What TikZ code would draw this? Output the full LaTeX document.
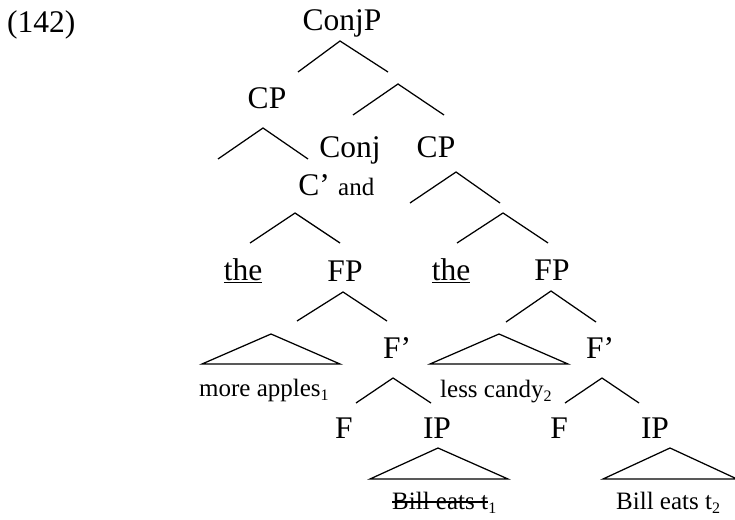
\documentclass[tikz,border=0pt]{standalone}
\usepackage{fontspec}
\setmainfont{Liberation Serif}
\newcommand{\sbs}[1]{\raisebox{-0.35ex}{\fontsize{16}{16}\selectfont #1}}
\begin{document}
\begin{tikzpicture}[x=1pt,y=-1pt,
  lab/.style={font=\fontsize{31.5}{34}\selectfont, inner sep=0pt, anchor=base},
  sm/.style={font=\fontsize{25}{28}\selectfont, inner sep=0pt, anchor=base west},
  br/.style={line width=1.25pt, line join=miter}]
\useasboundingbox (0,0) rectangle (735,519);
% labels
\node[lab, anchor=base west] (num) at (7,33) {(142)};
\node[lab] (conjp) at (342,31) {ConjP};
\node[lab] (cp1) at (267,108) {CP};
\node[lab] (conj) at (350,157) {Conj};
\node[lab] (cp2) at (436,157) {CP};
\node[lab] (cbar) at (314,195) {C'};
\node[sm] (and) at (338,195) {and};
\node[lab] (the1) at (243,280) {\underline{the}};
\node[lab] (fp1) at (345,281) {FP};
\node[lab] (the2) at (451,280) {\underline{the}};
\node[lab] (fp2) at (552,280) {FP};
\node[lab] (fbar1) at (397,358) {F'};
\node[lab] (fbar2) at (600,358) {F'};
\node[lab] (f1) at (344,438) {F};
\node[lab] (ip1) at (437,438) {IP};
\node[lab] (f2) at (559,438) {F};
\node[lab] (ip2) at (655,438) {IP};
\node[sm] (ma) at (199,396) {more apples\sbs{1}};
\node[sm] (lc) at (440,397) {less candy\sbs{2}};
\node[sm] (be1) at (392,509) {Bill eats t};
\node[sm, anchor=base west] (be1s) at (be1.base east) {\sbs{1}};
\draw[line width=1.3pt] ([yshift=7pt]be1.base west) -- ([yshift=7pt]be1.base east);
\node[sm] (be2) at (616,509) {Bill eats t\sbs{2}};
% branch points
\coordinate (a1) at (340,41);  \coordinate (a1l) at (298,72);  \coordinate (a1r) at (388,72);
\coordinate (a2) at (398,84);  \coordinate (a2l) at (353,115); \coordinate (a2r) at (444,115);
\coordinate (a3) at (263,128); \coordinate (a3l) at (218,159); \coordinate (a3r) at (308,159);
\coordinate (a4) at (295,213); \coordinate (a4l) at (250,243); \coordinate (a4r) at (340,243);
\coordinate (a5) at (456,172); \coordinate (a5l) at (410,203); \coordinate (a5r) at (500,203);
\coordinate (a6) at (503,213); \coordinate (a6l) at (457,243); \coordinate (a6r) at (548,243);
\coordinate (a7) at (343,292); \coordinate (a7l) at (297,321); \coordinate (a7r) at (387,321);
\coordinate (a8) at (551,291); \coordinate (a8l) at (506,322); \coordinate (a8r) at (596,322);
\coordinate (a9) at (393,378); \coordinate (a9l) at (356,403); \coordinate (a9r) at (431,403);
\coordinate (a10) at (602,378); \coordinate (a10l) at (565,403); \coordinate (a10r) at (639,403);
\foreach \n in {1,...,10} {\draw[br] (a\n l) -- (a\n) -- (a\n r);}
% triangles
\coordinate (t1) at (271,334); \coordinate (t1l) at (202,364); \coordinate (t1r) at (340,364);
\coordinate (t2) at (499,334); \coordinate (t2l) at (430,364); \coordinate (t2r) at (568,364);
\coordinate (t3) at (438,448); \coordinate (t3l) at (370,479); \coordinate (t3r) at (508,479);
\coordinate (t4) at (670,448); \coordinate (t4l) at (603,479); \coordinate (t4r) at (737,479);
\foreach \n in {1,...,4} {\draw[br] (t\n) -- (t\n l) -- (t\n r) -- cycle;}
\end{tikzpicture}
\end{document}
